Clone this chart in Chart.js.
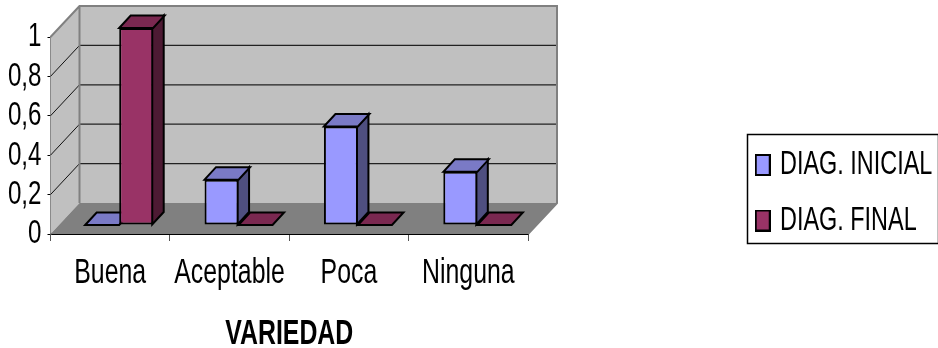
<!DOCTYPE html>
<html>
<head>
<meta charset="utf-8">
<style>
  html, body { margin: 0; padding: 0; background: #fff; }
  #wrap { width: 938px; height: 348px; }
</style>
<script src="https://cdn.jsdelivr.net/npm/chart.js@4/dist/chart.umd.min.js"></script>
</head>
<body>
<div id="wrap"><canvas id="c" width="938" height="348"></canvas></div>
<script>
const categories = ['Buena', 'Aceptable', 'Poca', 'Ninguna'];
const diagInicial = [0, 0.23, 0.5, 0.27];
const diagFinal = [1, 0, 0, 0];
const yTicks = [0, 0.2, 0.4, 0.6, 0.8, 1];
const seriesNames = ['DIAG. INICIAL', 'DIAG. FINAL'];
const axisTitle = 'VARIEDAD';

const FONT = '"Liberation Sans", Arial, sans-serif';
const TEXT_SQUEEZE = 0.71;
const palette = [
  { front: '#9999FF', top: '#7A7AC6', side: '#4F4F80' },
  { front: '#993366', top: '#7A2850', side: '#4D1A33' }
];

// Wall depth of the 3D box, and where the bars stand inside it.
const WALL = { dx: 29, dy: -31 };
const BAR_PLANE = { dx: 9, dy: -9 };
const BAR_DEPTH = { dx: 11.5, dy: -12.5 };

function polygon(ctx, pts, fill, stroke, lw) {
  ctx.beginPath();
  pts.forEach((p, i) => (i ? ctx.lineTo(p[0], p[1]) : ctx.moveTo(p[0], p[1])));
  ctx.closePath();
  if (fill) { ctx.fillStyle = fill; ctx.fill(); }
  if (stroke) { ctx.strokeStyle = stroke; ctx.lineWidth = lw; ctx.lineJoin = 'miter'; ctx.stroke(); }
}

function swatch(color) {
  const cv = document.createElement('canvas');
  cv.width = 16; cv.height = 22;
  const g = cv.getContext('2d');
  g.fillStyle = '#000'; g.fillRect(0, 0, 16, 22);
  g.fillStyle = color; g.fillRect(2, 2, 12, 18);
  return cv;
}

// All chart text is set in a horizontally condensed face.
const canvas = document.getElementById('c');
const context = canvas.getContext('2d');
const plainFillText = context.fillText.bind(context);
context.fillText = function (text, x, y) {
  context.save();
  context.translate(x, y);
  context.scale(TEXT_SQUEEZE, 1);
  plainFillText(text, 0, 0);
  context.restore();
};

// Box walls, floor, grid and the depth faces of every bar.
const box3d = {
  id: 'box3d',
  beforeDatasetsDraw(chart) {
    const { ctx, chartArea: a, scales: { y } } = chart;
    const { dx, dy } = WALL;
    ctx.save();
    polygon(ctx, [[a.left + dx, a.top + dy], [a.right + dx, a.top + dy], [a.right + dx, a.bottom + dy], [a.left + dx, a.bottom + dy]], '#C0C0C0');
    polygon(ctx, [[a.left, a.top], [a.left + dx, a.top + dy], [a.left + dx, a.bottom + dy], [a.left, a.bottom]], '#C0C0C0');
    polygon(ctx, [[a.left, a.bottom], [a.left + dx, a.bottom + dy], [a.right + dx, a.bottom + dy], [a.right, a.bottom]], '#808080');

    // Grid lines run along the left wall and across the back wall.
    yTicks.forEach(v => {
      if (v === 0 || v === 1) return;
      const py = y.getPixelForValue(v);
      ctx.beginPath();
      ctx.moveTo(a.left, py);
      ctx.lineTo(a.left + dx, py + dy);
      ctx.strokeStyle = '#111'; ctx.lineWidth = 1; ctx.stroke();
      ctx.beginPath();
      ctx.moveTo(a.left + dx, py + dy);
      ctx.lineTo(a.right + dx, py + dy);
      ctx.strokeStyle = '#222'; ctx.lineWidth = 1.2; ctx.stroke();
    });

    // Grey wall outline.
    ctx.beginPath();
    ctx.moveTo(a.left, a.top);
    ctx.lineTo(a.left + dx, a.top + dy);
    ctx.lineTo(a.right + dx, a.top + dy);
    ctx.lineTo(a.right + dx, a.bottom + dy);
    ctx.lineTo(a.right, a.bottom);
    ctx.moveTo(a.left + dx, a.top + dy);
    ctx.lineTo(a.left + dx, a.bottom + dy);
    ctx.strokeStyle = '#808080'; ctx.lineWidth = 2; ctx.stroke();
    ctx.restore();

    ctx.save();
    ctx.translate(BAR_PLANE.dx, BAR_PLANE.dy);
    const standing = el => el.base - el.y > 0.5;
    const bars = [];
    chart.data.datasets.forEach((ds, i) => {
      chart.getDatasetMeta(i).data.forEach(el => bars.push({ el, colors: palette[i] }));
    });
    // Flat bars lie on the floor, so they go down before the standing ones.
    const ordered = bars.filter(b => !standing(b.el)).concat(bars.filter(b => standing(b.el)));
    ordered.forEach(({ el, colors }) => {
      const l = el.x - el.width / 2, r = el.x + el.width / 2;
      const t = el.y, b = el.base;
      const ddx = BAR_DEPTH.dx, ddy = BAR_DEPTH.dy;
      if (standing(el)) {
        polygon(ctx, [[r - 1, t], [r - 1 + ddx, t + ddy], [r - 1 + ddx, b + ddy], [r - 1, b]], colors.side, '#000', 2);
      }
      polygon(ctx, [[l, t], [l + ddx, t + ddy], [r + ddx, t + ddy], [r, t]], colors.top, '#000', 2);
    });
  },
  afterDatasetsDraw(chart) {
    chart.ctx.restore();
  },
  afterLayout(chart) {
    const lg = chart.legend;
    lg.left = 739.4; lg.right = 938; lg.top = 126; lg.bottom = 348;
  },
  beforeDraw(chart) {
    const { ctx } = chart;
    ctx.save();
    ctx.strokeStyle = '#000'; ctx.lineWidth = 1.5;
    ctx.strokeRect(747.5, 134.5, 191, 109);
    ctx.restore();
  }
};

new Chart(canvas, {
  type: 'bar',
  data: {
    labels: categories,
    datasets: [
      { label: seriesNames[0], data: diagInicial, backgroundColor: palette[0].front, borderColor: '#000', borderWidth: 2, borderSkipped: false },
      { label: seriesNames[1], data: diagFinal, backgroundColor: palette[1].front, borderColor: '#000', borderWidth: 2, borderSkipped: false }
    ]
  },
  plugins: [box3d],
  options: {
    responsive: false,
    animation: false,
    devicePixelRatio: 1,
    clip: false,
    layout: { padding: { left: 0, top: 37, right: 410, bottom: 0 } },
    datasets: { bar: { categoryPercentage: 0.57, barPercentage: 1 } },
    plugins: {
      tooltip: { enabled: false },
      legend: {
        position: 'chartArea',
        align: 'start',
        labels: {
          color: '#000',
          font: { family: FONT, size: 33 },
          padding: 22.5,
          usePointStyle: true,
          pointStyleWidth: 1.6,
          generateLabels: () => seriesNames.map((text, i) => ({
            text,
            datasetIndex: i,
            fontColor: '#000',
            pointStyle: swatch(palette[i].front),
            lineWidth: 0
          }))
        }
      }
    },
    scales: {
      x: {
        afterFit: s => { s.height = 114; },
        grid: { drawOnChartArea: false, color: '#555', tickLength: 7, lineWidth: 1 },
        border: { color: '#000', width: 2 },
        ticks: { color: '#000', font: { family: FONT, size: 35 }, padding: 11, maxRotation: 0, autoSkip: false },
        title: { display: true, text: axisTitle, color: '#000', font: { family: FONT, size: 35, weight: 'bold', lineHeight: 1 }, padding: { top: 0, bottom: -4 } }
      },
      y: {
        min: 0,
        max: 1,
        afterFit: s => { s.width = 50.5; },
        afterBuildTicks: s => { s.ticks = yTicks.map(value => ({ value })); },
        grid: { drawOnChartArea: false, color: '#000', tickLength: 3, lineWidth: 1 },
        border: { color: '#555', width: 1.5 },
        ticks: { color: '#000', font: { family: FONT, size: 34 }, padding: 6, autoSkip: false, callback: v => String(v).replace('.', ',') }
      }
    }
  }
});
</script>
</body>
</html>
